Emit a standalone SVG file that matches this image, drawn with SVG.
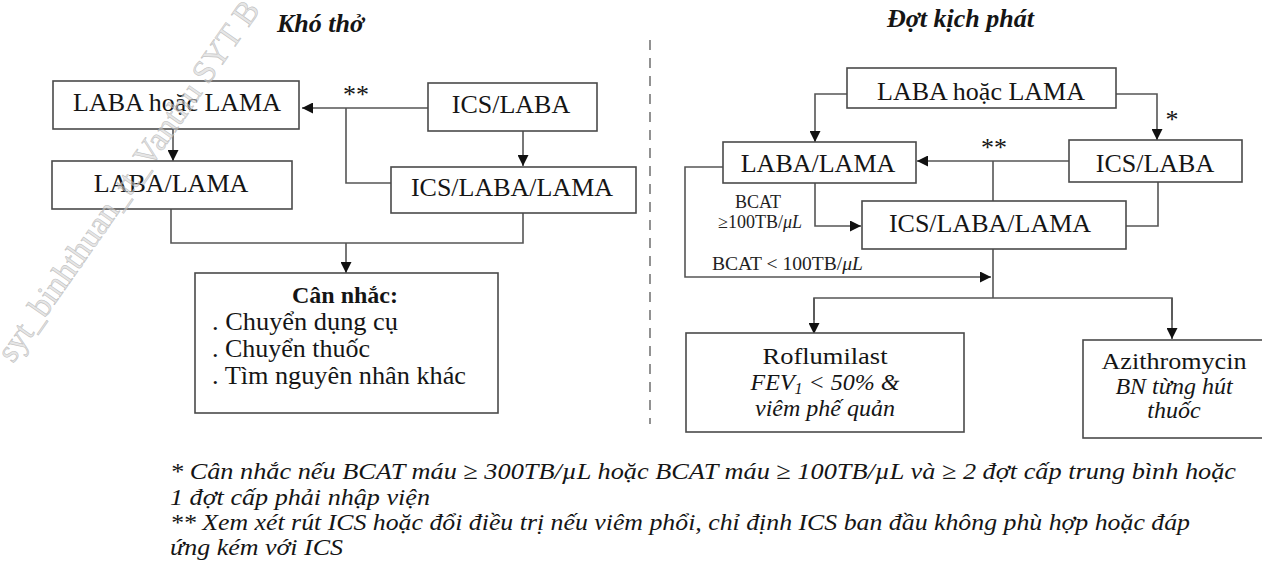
<svg xmlns="http://www.w3.org/2000/svg" width="1262" height="567" viewBox="0 0 1262 567">
<style>
.box{fill:#fff;stroke:#4a4a4a;stroke-width:1.6}
.t{font-family:"Liberation Serif","Times New Roman",serif;font-size:26px;fill:#151515;text-anchor:middle}
.ts{font-family:"Liberation Serif","Times New Roman",serif;font-size:25px;fill:#151515;text-anchor:start}
.tm{font-family:"Liberation Serif","Times New Roman",serif;font-size:24px;fill:#151515;text-anchor:middle}
.ti{font-style:italic}
.title{font-family:"Liberation Serif","Times New Roman",serif;font-size:26px;font-weight:bold;font-style:italic;fill:#151515}
.lbl{font-family:"Liberation Serif","Times New Roman",serif;font-size:18px;fill:#222}
.fn{font-family:"Liberation Serif","Times New Roman",serif;font-size:24px;font-style:italic;fill:#151515}
.ln{fill:none;stroke:#555;stroke-width:1.6}
.wm{font-family:"Liberation Serif","Times New Roman",serif;font-size:33px;fill:#d0d0d0;fill-opacity:0.55;stroke:#b5b5b5;stroke-width:0.6;stroke-opacity:0.8}
</style>
<defs>
<marker id="ah" markerUnits="userSpaceOnUse" markerWidth="12" markerHeight="11" refX="11" refY="5.5" orient="auto">
<path d="M0,0 L11,5.5 L0,11 z" fill="#111"/>
</marker>
</defs>
<rect width="1262" height="567" fill="#fff"/>

<text class="title" x="277" y="32">Khó thở</text>
<text class="title" x="887" y="27">Đợt kịch phát</text>
<line x1="650" y1="40" x2="650" y2="424" stroke="#777" stroke-width="1.6" stroke-dasharray="10,8"/>

<g id="connectors">
<line class="ln" x1="428" y1="108" x2="302" y2="108" marker-end="url(#ah)"/>
<polyline class="ln" points="346,108 346,183 391,183"/>
<line class="ln" x1="173" y1="129" x2="173" y2="161" marker-end="url(#ah)"/>
<line class="ln" x1="523" y1="131" x2="523" y2="166" marker-end="url(#ah)"/>
<polyline class="ln" points="171,209 171,243 523,243 523,213"/>
<line class="ln" x1="346" y1="243" x2="346" y2="273" marker-end="url(#ah)"/>
<text class="t" x="356" y="103">**</text>
<polyline class="ln" points="847,94 815,94 815,142" marker-end="url(#ah)"/>
<polyline class="ln" points="1116,94 1157,94 1157,140" marker-end="url(#ah)"/>
<text class="t" x="1172" y="128">*</text>
<line class="ln" x1="1069" y1="161" x2="917" y2="161" marker-end="url(#ah)"/>
<line class="ln" x1="993" y1="161" x2="993" y2="201"/>
<text class="t" x="994" y="156">**</text>
<polyline class="ln" points="1158,182 1158,226 1126,226"/>
<polyline class="ln" points="815,183 815,226 861,226" marker-end="url(#ah)"/>
<polyline class="ln" points="723,167 685,167 685,277 991,277" marker-end="url(#ah)"/>
<line class="ln" x1="993" y1="249" x2="993" y2="298"/>
<polyline class="ln" points="814,320 814,298 1172,298 1172,320"/>
<line class="ln" x1="814" y1="298" x2="814" y2="334" marker-end="url(#ah)"/>
<line class="ln" x1="1172" y1="298" x2="1172" y2="339" marker-end="url(#ah)"/>
<text class="lbl" x="758" y="208" text-anchor="middle">BCAT</text>
<text class="lbl" x="760" y="228" text-anchor="middle">≥100TB/<tspan font-style="italic">μL</tspan></text>
<text class="lbl" x="712" y="270" textLength="151" lengthAdjust="spacingAndGlyphs">BCAT &lt; 100TB/<tspan font-style="italic">μL</tspan></text>
</g>

<g id="l-laba-or-lama">
<rect class="box" x="53" y="81" width="246" height="48"/>
<text class="t" x="177" y="111">LABA hoặc LAMA</text>
</g>
<g id="l-laba-lama">
<rect class="box" x="52" y="161" width="240" height="48"/>
<text class="t" x="171" y="192">LABA/LAMA</text>
</g>
<g id="l-ics-laba">
<rect class="box" x="428" y="83" width="169" height="48"/>
<text class="t" x="511" y="113">ICS/LABA</text>
</g>
<g id="l-ics-laba-lama">
<rect class="box" x="391" y="167" width="245" height="46"/>
<text class="t" x="512" y="196">ICS/LABA/LAMA</text>
</g>
<g id="l-consider">
<rect class="box" x="195" y="273" width="303" height="140"/>
<text class="tm" x="345" y="303" font-weight="bold">Cân nhắc:</text>
<text class="ts" x="212" y="330" textLength="186" lengthAdjust="spacingAndGlyphs">. Chuyển dụng cụ</text>
<text class="ts" x="212" y="357" textLength="158" lengthAdjust="spacingAndGlyphs">. Chuyển thuốc</text>
<text class="ts" x="212" y="384" textLength="254" lengthAdjust="spacingAndGlyphs">. Tìm nguyên nhân khác</text>
</g>

<g id="r-laba-or-lama">
<rect class="box" x="847" y="68" width="269" height="40"/>
<text class="t" x="981" y="100">LABA hoặc LAMA</text>
</g>
<g id="r-laba-lama">
<rect class="box" x="723" y="142" width="193" height="41"/>
<text class="t" x="818" y="172">LABA/LAMA</text>
</g>
<g id="r-ics-laba">
<rect class="box" x="1069" y="140" width="173" height="42"/>
<text class="t" x="1155" y="172">ICS/LABA</text>
</g>
<g id="r-ics-laba-lama">
<rect class="box" x="862" y="201" width="264" height="48"/>
<text class="t" x="990" y="232">ICS/LABA/LAMA</text>
</g>
<g id="r-roflumilast">
<rect class="box" x="686" y="333" width="278" height="99"/>
<text class="tm" x="825" y="364" textLength="125" lengthAdjust="spacingAndGlyphs">Roflumilast</text>
<text class="tm ti" x="825" y="390">FEV<tspan font-size="16" dy="4">1</tspan><tspan dy="-4"> &lt; 50% &amp;</tspan></text>
<text class="tm ti" x="825" y="416">viêm phế quản</text>
</g>
<g id="r-azithromycin">
<rect class="box" x="1083" y="340" width="182" height="98"/>
<text class="tm" x="1174" y="369" textLength="145" lengthAdjust="spacingAndGlyphs">Azithromycin</text>
<text class="tm ti" x="1174" y="394">BN từng hút</text>
<text class="tm ti" x="1174" y="418">thuốc</text>
</g>

<g id="footnotes">
<text class="fn" x="170" y="479" textLength="1066" lengthAdjust="spacingAndGlyphs">* Cân nhắc nếu BCAT máu ≥ 300TB/µL hoặc BCAT máu ≥ 100TB/µL và ≥ 2 đợt cấp trung bình hoặc</text>
<text class="fn" x="170" y="505" textLength="260" lengthAdjust="spacingAndGlyphs">1 đợt cấp phải nhập viện</text>
<text class="fn" x="170" y="530" textLength="1020" lengthAdjust="spacingAndGlyphs">** Xem xét rút ICS hoặc đổi điều trị nếu viêm phổi, chỉ định ICS ban đầu không phù hợp hoặc đáp</text>
<text class="fn" x="170" y="555" textLength="173" lengthAdjust="spacingAndGlyphs">ứng kém với ICS</text>
</g>

<text class="wm" transform="translate(13,364) rotate(-55)">syt_binhthuan_tt_Vanthu SYT B</text>
</svg>
